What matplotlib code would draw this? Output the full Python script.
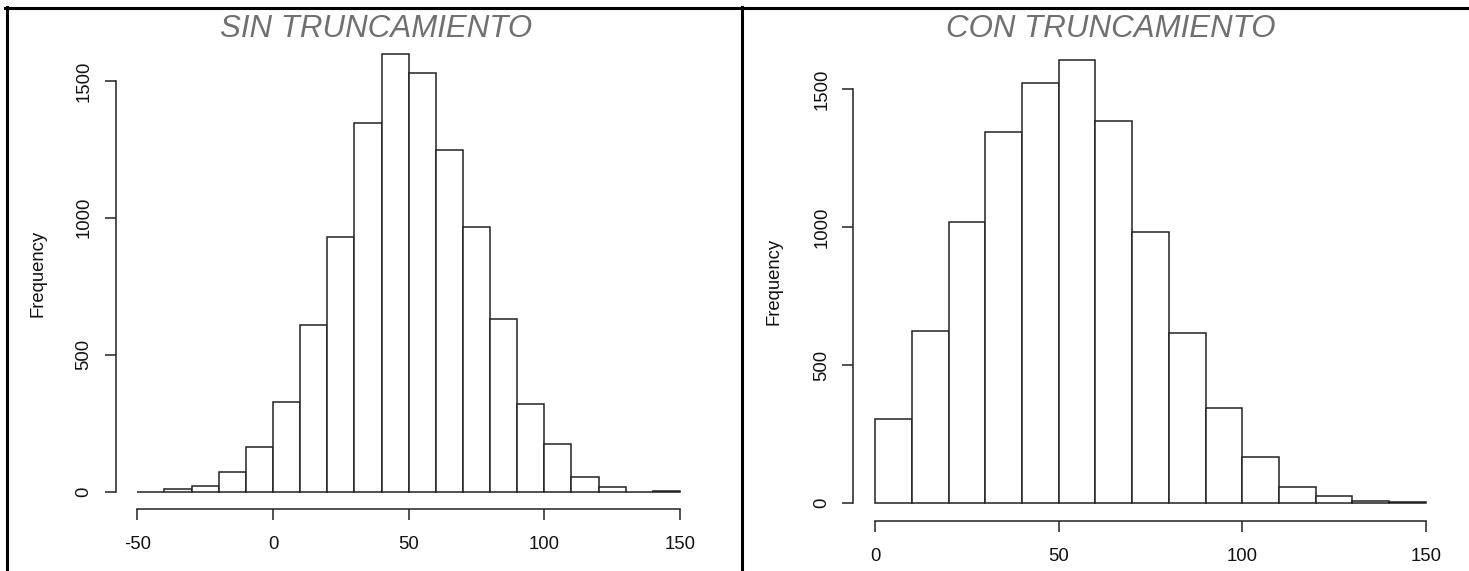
import numpy as np
import matplotlib
matplotlib.use("Agg")
import matplotlib.pyplot as plt
from matplotlib.lines import Line2D

plt.rcParams['font.family'] = ['Liberation Sans', 'DejaVu Sans']
plt.rcParams['axes.unicode_minus'] = False

# bin edges and counts
edges_sin = np.arange(-50, 151, 10)
counts_sin = [0, 8, 21, 70, 164, 327, 609, 931, 1345, 1597,
              1529, 1246, 965, 631, 320, 173, 52, 18, 0, 3]

edges_con = np.arange(0, 151, 10)
counts_con = [306, 623, 1017, 1343, 1523, 1606, 1385, 982,
              616, 346, 169, 60, 25, 9, 3]

xticks_sin = [-50, 0, 50, 100, 150]
xticks_con = [0, 50, 100, 150]
yticks = [0, 500, 1000, 1500]

W, H = 1469, 571
fig = plt.figure(figsize=(W / 100, H / 100), dpi=100)


def px_axes(x0, y0, x1, y1):
    # pixel box (top-left origin) -> figure fraction
    return fig.add_axes([x0 / W, 1 - y1 / H, (x1 - x0) / W, (y1 - y0) / H])


def r_hist(ax, edges, counts, xticks):
    lo, hi = edges[0], edges[-1]
    pad = 0.04 * (hi - lo)
    top = max(counts)
    ax.bar(edges[:-1], counts, width=np.diff(edges), align='edge',
           color='white', edgecolor='#222222', linewidth=1.1)
    ax.set_xlim(lo - pad, hi + pad)
    ax.set_ylim(-0.04 * top, 1.04 * top)
    for s in ('top', 'right'):
        ax.spines[s].set_visible(False)
    ax.spines['left'].set_bounds(yticks[0], yticks[-1])
    ax.spines['bottom'].set_bounds(xticks[0], xticks[-1])
    for s in ('left', 'bottom'):
        ax.spines[s].set_linewidth(1.1)
        ax.spines[s].set_color('#222222')
    ax.set_xticks(xticks)
    ax.set_yticks(yticks)
    ax.tick_params(axis='both', length=7.6, width=1.1, color='#222222',
                   labelsize=13.3, labelcolor='#111111')
    ax.tick_params(axis='x', pad=12)
    ax.tick_params(axis='y', pad=9)
    for lab in ax.get_yticklabels():
        lab.set_rotation(90)
        lab.set_va('center')
    ax.text(-0.133, 0.5, 'Frequency', transform=ax.transAxes, rotation=90,
            ha='center', va='center', fontsize=13.3, color='#111111')


ax1 = px_axes(115.6, 36.8, 701.7, 509.1)
r_hist(ax1, edges_sin, counts_sin, xticks_sin)

ax2 = px_axes(853.3, 42.0, 1447.7, 521.0)
r_hist(ax2, edges_con, counts_con, xticks_con)

fig.text(376 / W, 1 - 37 / H, 'SIN TRUNCAMIENTO', ha='center', va='baseline',
         fontsize=22.5, style='italic', color='#707070')
fig.text(1111 / W, 1 - 37 / H, 'CON TRUNCAMIENTO', ha='center', va='baseline',
         fontsize=22.5, style='italic', color='#707070')

# table-cell frame around the two panels
frame = dict(color='black', linewidth=2.2, transform=fig.transFigure)
fig.add_artist(Line2D([6.5 / W, 6.5 / W], [0, 1 - 7 / H], **frame))
fig.add_artist(Line2D([742 / W, 742 / W], [0, 1 - 7 / H], **frame))
fig.add_artist(Line2D([5 / W, 1], [1 - 7.5 / H, 1 - 7.5 / H], **frame))

fig.savefig('out.png', dpi=100)
